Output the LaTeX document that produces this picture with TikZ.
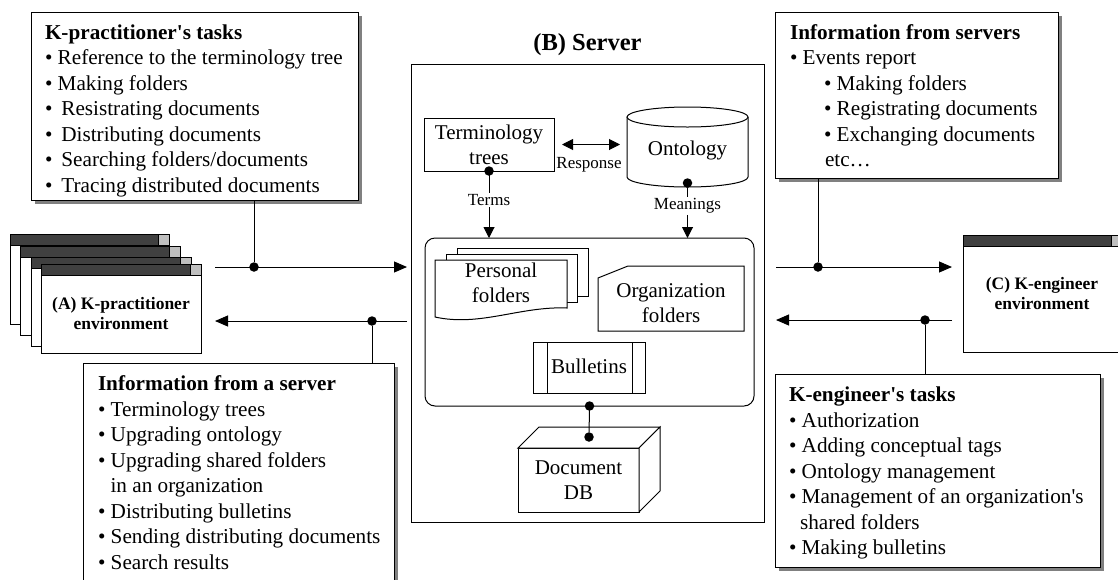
\documentclass[tikz,border=0pt]{standalone}
\usepackage{fontspec}
\setmainfont{Liberation Serif}
\usetikzlibrary{arrows.meta,shadows}
\definecolor{winbar}{gray}{0.25}
\definecolor{winbtn}{gray}{0.75}
\definecolor{shadowgray}{gray}{0.5}
\newcommand\kwin[4]{%
  \filldraw[fill=white] (#1,#2) rectangle (#3,#4);
  \filldraw[fill=winbar] (#1,#2) rectangle ({#3-11},{#2+11});
  \filldraw[fill=winbtn] ({#3-11},#2) rectangle (#3,{#2+11});
}
\begin{document}
\begin{tikzpicture}[x=1pt,y=-1pt, line width=1pt,
  every node/.style={inner sep=0pt, outer sep=0pt},
  txt/.style={font=\fontsize{21.2}{25.5}\selectfont, align=left, anchor=north west},
  tbox/.style={draw, fill=white, anchor=north west,
    drop shadow={shadow xshift=3.5pt, shadow yshift=-3.5pt, fill=shadowgray, opacity=1}},
  shp/.style={font=\fontsize{21}{25}\selectfont, align=center},
  lbl/.style={font=\fontsize{17}{20}\selectfont, inner sep=1.5pt},
  wlbl/.style={font=\fontsize{17.5}{20}\selectfont\bfseries, align=center},
  jdot/.style={circle, fill=black, minimum size=9.5pt, inner sep=0pt},
  arr/.style={-{Triangle[length=13pt,width=11pt]}},
  arrs/.style={-{Triangle[length=11pt,width=11pt]}},
  darrs/.style={{Triangle[length=11pt,width=11pt]}-{Triangle[length=11pt,width=11pt]}},
]
\useasboundingbox (0,0) rectangle (1118,579);

% ---------- text boxes ----------
\node[tbox, minimum width=327pt, minimum height=188pt] (kpt) at (31,12) {};
\node[txt] (kptT) at (45,21.15) {\strut\textbf{K-practitioner\textquotesingle s tasks}\\
• Reference to the terminology tree\\
• Making folders\\
•\hspace{9pt}Resistrating documents\\
•\hspace{9pt}Distributing documents\\
•\hspace{9pt}Searching folders/documents\\
•\hspace{9pt}Tracing distributed documents};

\node[tbox, minimum width=311pt, minimum height=240pt] (ifs) at (83,363) {};
\node[txt] (ifsT) at (98,372.65) {\strut\textbf{Information from a server}\\
• Terminology trees\\
• Upgrading ontology\\
• Upgrading shared folders\\
\hspace*{12.6pt}in an organization\\
• Distributing bulletins\\
• Sending distributing documents\\
• Search results};

\node[tbox, minimum width=283pt, minimum height=166pt] (ifss) at (775,12) {};
\node[txt] (ifssT) at (790,21.15) {\strut\textbf{Information from servers}\\
• Events report\\
\hspace*{34pt}• Making folders\\
\hspace*{34pt}• Registrating documents\\
\hspace*{34pt}• Exchanging documents\\
\hspace*{35pt}etc…};

\node[tbox, minimum width=325pt, minimum height=193pt] (ket) at (775,374) {};
\node[txt] (ketT) at (789,383.85) {\strut\textbf{K-engineer\textquotesingle s tasks}\\
• Authorization\\
• Adding conceptual tags\\
• Ontology management\\
• Management of an organization\textquotesingle s\\
\hspace*{11pt}shared folders\\
• Making bulletins};

% ---------- windows ----------
\kwin{10}{234}{169}{324}
\kwin{20}{246}{180}{335}
\kwin{31}{257}{191}{346}
\kwin{41}{264}{201}{353}
\node[minimum width=160pt, minimum height=89pt, anchor=north west] (kpw) at (41,264) {};
\node[wlbl] (kpwT) at (121,314) {(A) K-practitioner\\environment};

\kwin{963}{235}{1122}{352}
\node[minimum width=159pt, minimum height=117pt, anchor=north west] (kew) at (963,235) {};
\node[wlbl] (kewT) at (1042,294) {(C) K-engineer\\environment};

% ---------- server ----------
\node[font=\fontsize{24.5}{28}\selectfont\bfseries, anchor=base] (srvT) at (587.5,50.5) {(B) Server};
\node[draw, minimum width=353pt, minimum height=458pt, anchor=north west] (srv) at (411,64) {};

\node[draw, fill=white, minimum width=130pt, minimum height=53pt, anchor=north west, shp] (term) at (424,118) {Terminology\\trees};

\node[minimum width=121pt, minimum height=80pt, anchor=north west] (ont) at (627,107) {};
\draw[fill=white] (627,117) -- (627,177) arc[start angle=180, end angle=360, x radius=60.5pt, y radius=10pt] -- (748,117);
\draw[fill=white] (687.5,117) ellipse[x radius=60.5pt, y radius=10pt];
\node[shp] (ontT) at (687.5,150) {Ontology};

\draw[darrs, shorten <=8pt, shorten >=7pt] (term.east) -- (term.east -| ont.west);
\node[lbl] (resp) at (589,165) {Response};

\node[draw, rounded corners=10pt, minimum width=329pt, minimum height=168pt, anchor=north west] (rr) at (425,238) {};

\node[lbl] (terms) at (489,200) {Terms};
\draw (term.south) -- (terms.north);
\draw[arrs] (terms.south) -- (terms.south |- rr.north);
\node[jdot] (termd) at (term.south) {};

\node[jdot] (ontd) at ([yshift=4pt]ont.south) {};
\node[lbl] (mean) at (687.5,206) {Meanings};
\draw (ontd) -- (mean.north);
\draw[arrs] (mean.south) -- (mean.south |- rr.north);

% personal folders
\filldraw[fill=white] (457,248) rectangle (588,296);
\filldraw[fill=white] (446,254) rectangle (577,302);
\filldraw[fill=white] (435,260) -- (567,260) -- (567,308) .. controls (520,306) and (480,327) .. (435,317) -- cycle;
\node[shp] (pf) at (501,282.5) {Personal\\folders};

% organization folders
\filldraw[fill=white] (598,278) -- (628,266) -- (744,266) -- (744,331) -- (598,331) -- cycle;
\node[shp] (of) at (671,303.5) {Organization\\folders};

% bulletins
\node[draw, fill=white, minimum width=112pt, minimum height=51pt, anchor=north west] (bul) at (533,342) {};
\draw ([xshift=14pt]bul.north west) -- ([xshift=14pt]bul.south west);
\draw ([xshift=-13pt]bul.north east) -- ([xshift=-13pt]bul.south east);
\node[shp] (bulT) at (589,366) {Bulletins};

% document DB
\node[draw, fill=white, minimum width=121pt, minimum height=64pt, anchor=north west] (db) at (518,448) {};
\draw[fill=white] (db.north west) -- ++(21,-21) -- ++(121,0) -- (db.north east) -- cycle;
\draw[fill=white] (db.north east) -- ++(21,-21) -- ++(0,64) -- (db.south east) -- cycle;
\node[shp] (dbT) at (578.5,480.5) {Document\\DB};
\node[jdot] (dbd) at (589,437) {};
\draw (rr.south) -- (dbd);
\node[jdot] (rrd) at (rr.south) {};

% ---------- connectors ----------
\coordinate (p1) at (215,267);
\draw[arr, shorten >=4pt] (p1) -- (p1 -| srv.west);
\node[jdot] (d1) at (254,267) {};
\draw (kpt.south -| d1) -- (d1);

\coordinate (p2) at (215,321);
\draw[arr, shorten <=4pt] (p2 -| srv.west) -- (p2);
\node[jdot] (d2) at (372,321) {};
\draw (d2) -- (d2 |- ifs.north);

\coordinate (p3) at (952,267);
\draw[arr, shorten <=12pt] (p3 -| srv.east) -- (p3);
\node[jdot] (d3) at (818,267) {};
\draw (ifss.south -| d3) -- (d3);

\coordinate (p4) at (952,320);
\draw[arr, shorten >=12pt] (p4) -- (p4 -| srv.east);
\node[jdot] (d4) at (925,320) {};
\draw (d4) -- (d4 |- ket.north);
\end{tikzpicture}
\end{document}
